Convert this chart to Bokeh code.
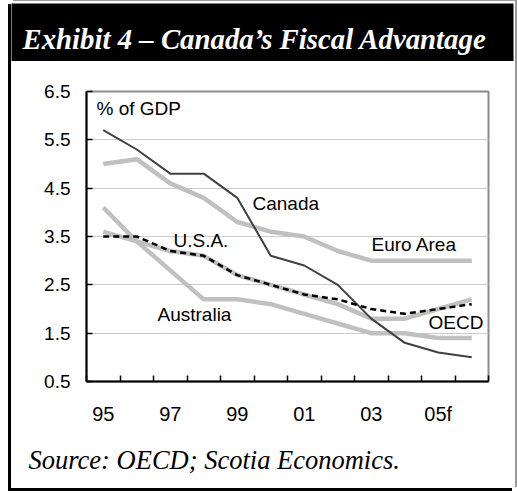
from bokeh.plotting import figure
from bokeh.layouts import column
from bokeh.models import Range1d, FixedTicker, Label
from bokeh.embed import file_html
from bokeh.resources import INLINE

# ---- data ----
years = ["95", "96", "97", "98", "99", "00", "01", "02", "03", "04", "05f", "06f"]
canada = [5.7, 5.3, 4.8, 4.8, 4.3, 3.1, 2.9, 2.5, 1.8, 1.3, 1.1, 1.0]
euro_area = [5.0, 5.1, 4.6, 4.3, 3.8, 3.6, 3.5, 3.2, 3.0, 3.0, 3.0, 3.0]
australia = [4.1, 3.4, 2.8, 2.2, 2.2, 2.1, 1.9, 1.7, 1.5, 1.5, 1.4, 1.4]
usa = [3.6, 3.4, 3.2, 3.1, 2.7, 2.5, 2.3, 2.1, 1.8, 1.8, 2.0, 2.2]
oecd = [3.5, 3.5, 3.2, 3.1, 2.7, 2.5, 2.3, 2.2, 2.0, 1.9, 2.0, 2.1]
x_tick_labels = ["95", "97", "99", "01", "03", "05f"]
y_ticks = [0.5, 1.5, 2.5, 3.5, 4.5, 5.5, 6.5]

x = list(range(len(years)))

# page geometry (pixels)
BOX_L, BOX_T = 11, 1
BOX_W = 504
TITLE_H, CHART_H, SRC_H = 60, 379, 48
FL, FR, FT, FB = 86, 488, 91, 381          # plot frame on the page
CHART_TOP = BOX_T + TITLE_H
XMIN, XMAX = -0.5, len(years) - 0.5
YMIN, YMAX = 0.5, 6.5


def px_x(px):
    return XMIN + (px - FL) * (XMAX - XMIN) / (FR - FL)


def px_y(py):
    return YMAX - (py - FT) * (YMAX - YMIN) / (FB - FT)


# ---- title bar ----
tf = figure(width=BOX_W, height=TITLE_H, x_range=Range1d(0, BOX_W - 2), y_range=Range1d(TITLE_H - 2, 0),
            output_backend="svg", toolbar_location=None, x_axis_type=None, y_axis_type=None,
            min_border_left=0, min_border_right=2, min_border_top=2, min_border_bottom=0)
tf.frame_align = False
tf.background_fill_color = "black"
tf.border_fill_color = "white"
tf.outline_line_color = None
tf.add_layout(Label(x=11, y=38 - (BOX_T + 2), text="Exhibit 4 \u2013 Canada\u2019s Fiscal Advantage",
                    text_font="Liberation Serif", text_font_style="bold italic",
                    text_font_size="28.8px", text_color="white", text_baseline="middle"))

# ---- chart ----
p = figure(width=BOX_W, height=CHART_H, x_range=Range1d(XMIN, XMAX), y_range=Range1d(YMIN, YMAX),
           output_backend="svg", toolbar_location=None,
           min_border_left=FL - BOX_L, min_border_right=BOX_L + BOX_W - FR,
           min_border_top=FT - CHART_TOP, min_border_bottom=CHART_TOP + CHART_H - FB)
p.frame_align = False
p.background_fill_color = "white"
p.border_fill_color = "white"
p.outline_line_color = "#8c8c8c"
p.outline_line_width = 2

p.xaxis.ticker = FixedTicker(ticks=[0, 2, 4, 6, 8, 10], minor_ticks=[i - 0.5 for i in range(len(years) + 1)])
p.xaxis.major_label_overrides = {i * 2: lab for i, lab in enumerate(x_tick_labels)}
p.xaxis.major_tick_line_color = None
p.xaxis.minor_tick_in = 6
p.xaxis.minor_tick_out = 0
p.xaxis.minor_tick_line_color = "black"
p.xaxis.minor_tick_line_width = 1.5
p.xaxis.axis_line_color = "black"
p.xaxis.axis_line_width = 2
p.xaxis.major_label_standoff = 15
p.xaxis.major_label_text_font = "Liberation Sans"
p.xaxis.major_label_text_font_size = "20px"
p.xaxis.major_label_text_color = "black"

p.yaxis.ticker = FixedTicker(ticks=y_ticks)
p.yaxis.major_tick_in = 6
p.yaxis.major_tick_out = 0
p.yaxis.major_tick_line_color = "black"
p.yaxis.major_tick_line_width = 1.5
p.yaxis.minor_tick_line_color = None
p.yaxis.axis_line_color = "black"
p.yaxis.axis_line_width = 2
p.yaxis.major_label_standoff = 16
p.yaxis.major_label_text_font = "Liberation Sans"
p.yaxis.major_label_text_font_size = "19px"
p.yaxis.major_label_text_color = "black"

p.xgrid.grid_line_color = None
p.ygrid.grid_line_color = "#cccccc"
p.ygrid.grid_line_width = 1

light = "#c0c0c0"
p.line(x, euro_area, line_color=light, line_width=4.5)
p.line(x, australia, line_color=light, line_width=4.5)
p.line(x, usa, line_color=light, line_width=4.5)
p.line(x, canada, line_color="#404040", line_width=2)
p.line(x, oecd, line_color="black", line_width=2.5, line_dash="6 4")

for text, lx, ly in [("Canada", 252, 203), ("Euro Area", 371, 244), ("U.S.A.", 173, 240),
                     ("Australia", 157, 314), ("OECD", 428, 322), ("% of GDP", 96, 108)]:
    p.add_layout(Label(x=px_x(lx), y=px_y(ly), text=text, text_font="Liberation Sans",
                       text_font_size="19px", text_baseline="middle", text_align="left",
                       text_color="black"))

# ---- source ----
sf = figure(width=BOX_W, height=SRC_H, x_range=Range1d(0, BOX_W), y_range=Range1d(SRC_H, 0),
            output_backend="svg", toolbar_location=None, x_axis_type=None, y_axis_type=None,
            min_border_left=0, min_border_right=0, min_border_top=0, min_border_bottom=0)
sf.frame_align = False
sf.background_fill_color = "white"
sf.border_fill_color = "white"
sf.outline_line_color = None
sf.add_layout(Label(x=17, y=459 - (CHART_TOP + CHART_H), text="Source: OECD; Scotia Economics.",
                    text_font="Liberation Serif", text_font_style="italic",
                    text_font_size="26.5px", text_color="black", text_baseline="middle"))

layout = column(tf, p, sf, spacing=0,
                margin=(BOX_T, 517 - BOX_L - BOX_W, 493 - BOX_T - TITLE_H - CHART_H - SRC_H, BOX_L),
                styles={"box-shadow": "-3px 3px 0 0 black, 2px -1px 0 0 #9a9a9a"})

open("out.html", "w").write(file_html(layout, INLINE))
